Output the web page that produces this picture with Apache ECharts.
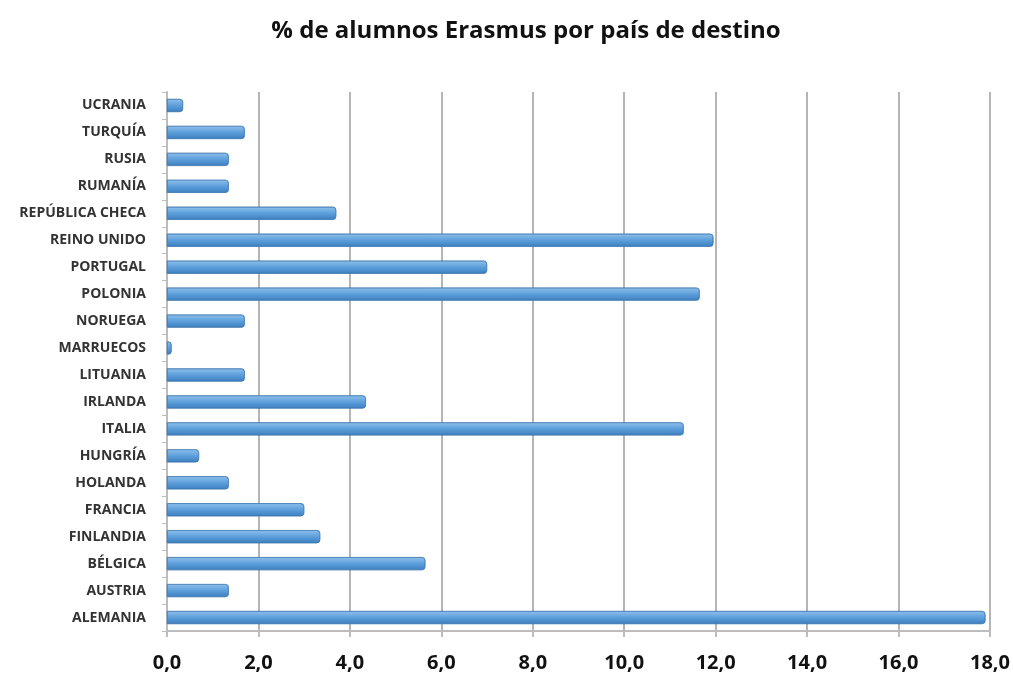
<!DOCTYPE html>
<html>
<head>
<meta charset="utf-8">
<script src="https://cdn.jsdelivr.net/npm/echarts@6/dist/echarts.min.js"></script>
<style>
  html, body { margin: 0; padding: 0; background: #fff; }
  #chart { width: 1013px; height: 680px; }
</style>
</head>
<body>
<div id="chart"></div>
<script>
// categories bottom -> top
const paises = [
  "ALEMANIA", "AUSTRIA", "BÉLGICA", "FINLANDIA", "FRANCIA", "HOLANDA",
  "HUNGRÍA", "ITALIA", "IRLANDA", "LITUANIA", "MARRUECOS", "NORUEGA",
  "POLONIA", "PORTUGAL", "REINO UNIDO", "REPÚBLICA CHECA", "RUMANÍA",
  "RUSIA", "TURQUÍA", "UCRANIA"
];
const porcentajes = [
  17.9, 1.35, 5.65, 3.35, 3.0, 1.35,
  0.7, 11.3, 4.35, 1.7, 0.1, 1.7,
  11.65, 7.0, 11.95, 3.7, 1.35,
  1.35, 1.7, 0.35
];

const chart = echarts.init(document.getElementById("chart"));
chart.setOption({
  title: {
    text: "% de alumnos Erasmus por país de destino",
    left: 521,
    textAlign: "center",
    top: 14,
    textStyle: { fontFamily: "Open Sans", fontSize: 24, fontWeight: "bold", color: "#111" }
  },
  grid: { left: 167, right: 23, top: 92, bottom: 49 },
  xAxis: {
    type: "value",
    min: 0,
    max: 18,
    interval: 2,
    axisLine: { show: true, lineStyle: { color: "#bdbdbd", width: 2 } },
    axisTick: { show: true, length: 6, lineStyle: { color: "#bdbdbd", width: 2 } },
    splitLine: { show: true, lineStyle: { color: "#b5b5b5", width: 2 } },
    axisLabel: {
      margin: 22,
      fontFamily: "Open Sans",
      fontSize: 20,
      fontWeight: "bold",
      color: "#111",
      formatter: (v) => v.toFixed(1).replace(".", ",")
    }
  },
  yAxis: {
    type: "category",
    data: paises,
    axisLine: { show: true, lineStyle: { color: "#bdbdbd", width: 2 } },
    axisTick: { show: true, length: 5, lineStyle: { color: "#bdbdbd" } },
    axisLabel: {
      margin: 21,
      fontFamily: "Open Sans",
      fontSize: 14,
      fontWeight: "bold",
      color: "#333"
    }
  },
  series: [
    {
      type: "bar",
      data: porcentajes,
      barWidth: 13,
      itemStyle: {
        color: new echarts.graphic.LinearGradient(0, 0, 0, 1, [
          { offset: 0, color: "#8fc0ec" },
          { offset: 0.5, color: "#5d9fdb" },
          { offset: 1, color: "#3d7fbf" }
        ]),
        borderColor: "#3f78b0",
        borderWidth: 0.6,
        borderRadius: [0, 3, 3, 0]
      }
    }
  ]
});
</script>
</body>
</html>
